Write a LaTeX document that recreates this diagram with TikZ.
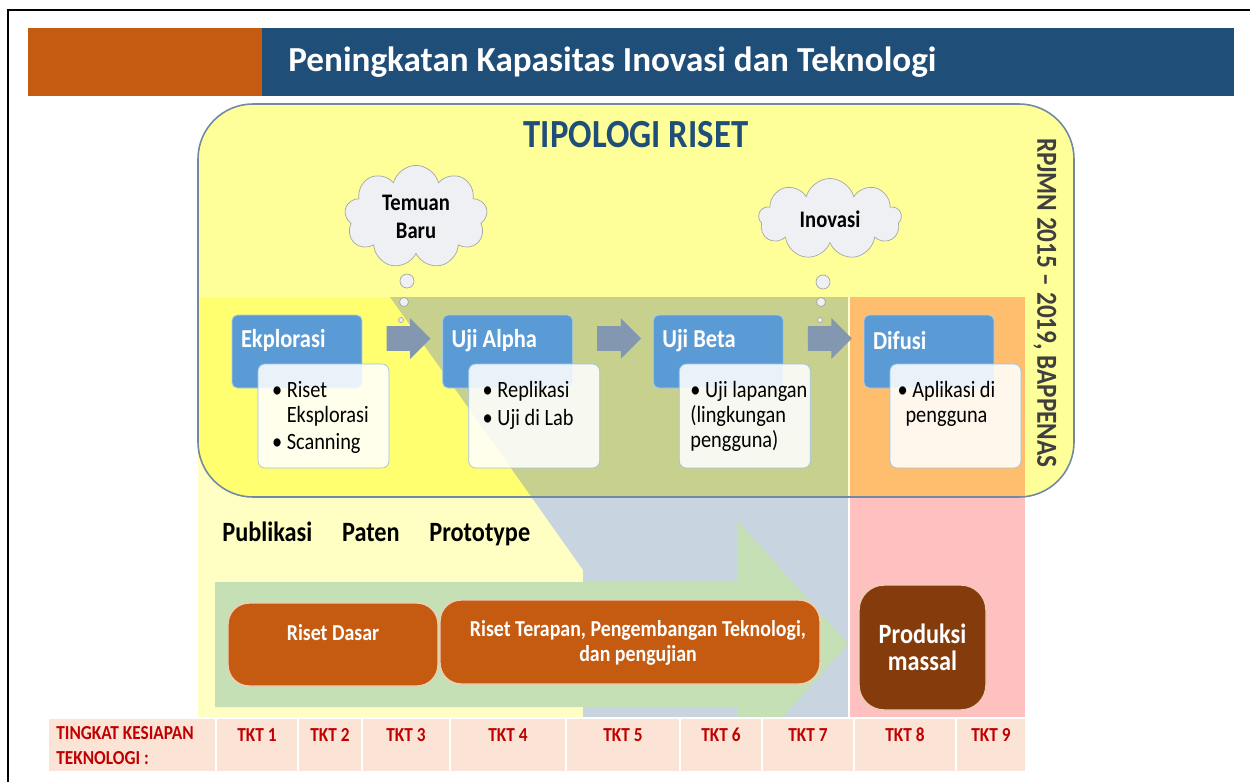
\documentclass[tikz,border=0pt]{standalone}
\usepackage{fontspec}
\setmainfont{Carlito}[FakeStretch=0.87]
\newfontfamily\headfont{Carlito}
\usetikzlibrary{positioning,calc,shapes.symbols,shapes.arrows}

\definecolor{headorange}{HTML}{C55A11}
\definecolor{headblue}{HTML}{1F4E79}
\definecolor{boxyellow}{HTML}{FFFF99}
\definecolor{brightyellow}{HTML}{FFFF70}
\definecolor{paleyellow}{HTML}{FFFFC3}
\definecolor{olive}{HTML}{C8D08E}
\definecolor{bluegrey}{HTML}{C8D4E0}
\definecolor{pinkband}{HTML}{FFC0C0}
\definecolor{orangeband}{HTML}{FFBE6E}
\definecolor{flowgreen}{HTML}{C5E0B4}
\definecolor{stageblue}{HTML}{5B9BD5}
\definecolor{detailline}{HTML}{9DC3E6}
\definecolor{arrowgrey}{HTML}{8497B0}
\definecolor{cloudfill}{HTML}{EFF0F3}
\definecolor{cloudline}{HTML}{A6A6A6}
\definecolor{burnt}{HTML}{C55A11}
\definecolor{brown}{HTML}{843C0C}
\definecolor{peach}{HTML}{FBE4D6}
\definecolor{tktred}{HTML}{C00000}
\definecolor{boxline}{HTML}{7288A3}
\definecolor{sidegrey}{HTML}{3F3F3F}

\newcommand{\bul}{\textbullet\hspace{0.2em}}
\newcommand{\bulgap}{\hphantom{\textbullet\hspace{0.2em}}}

\begin{document}
\begin{tikzpicture}[x=0.02cm, y=-0.02cm,
    stage/.style={rectangle, rounded corners=3pt, fill=stageblue, draw=stageblue!50!white,
      minimum width=2.6cm, minimum height=1.46cm, inner sep=0pt},
    stage title/.style={anchor=west, inner sep=0pt, text=white, font=\bfseries\fontsize{14.7}{17}\selectfont},
    detail/.style={rectangle, rounded corners=4pt, fill=white, fill opacity=0.87, draw=detailline,
      minimum width=2.62cm, minimum height=2.08cm, inner sep=0pt, anchor=north west},
    detail text/.style={inner sep=0pt, font=\fontsize{13.3}{14.3}\selectfont},
    step arrow/.style={single arrow, fill=arrowgrey, inner sep=0pt, minimum height=0.88cm,
      single arrow head extend=0.16cm, text height=0.24cm, text depth=0.24cm},
    thought/.style={cloud, cloud puffs=9, cloud ignores aspect, draw=cloudline, fill=cloudfill,
      minimum width=2.86cm, minimum height=1.62cm, align=center, font=\bfseries\fontsize{13.5}{16}\selectfont},
    bubble/.style={circle, draw=cloudline, fill=cloudfill, inner sep=0pt},
    output/.style={inner sep=0pt, font=\bfseries\fontsize{15.9}{19}\selectfont},
    research/.style={rectangle, rounded corners=0.42cm, fill=burnt, draw=white!70!burnt, line width=0.8pt},
    research text/.style={inner sep=0pt, text=white, align=center, font=\bfseries\fontsize{13}{14.3}\selectfont},
    tkt/.style={inner sep=0pt, text=tktred, font=\bfseries\fontsize{11.3}{14.2}\selectfont}
  ]
  \useasboundingbox (0,0) rectangle (1250,782);

  % frame and header bar
  \draw[line width=1.2pt] (8,782) -- (8,10) -- (1250,10);
  \fill[headorange] (28,28) rectangle (262,96);
  \fill[headblue] (262,28) rectangle (1234,96);
  \node[anchor=west, inner sep=0pt, text=white, font=\headfont\bfseries\fontsize{20}{24}\selectfont]
    (judul) at (288,62) {Peningkatan Kapasitas Inovasi dan Teknologi};

  % readiness bands behind everything
  \fill[paleyellow] (198,297) -- (390,297) -- (583,570) -- (583,718) -- (198,718) -- cycle;
  \fill[bluegrey] (390,297) -- (848,297) -- (848,718) -- (583,718) -- (583,570) -- cycle;
  \fill[pinkband] (850,297) rectangle (1025,718);

  % big green flow arrow
  \begin{scope}
    \clip (0,0) rectangle (1250,718);
    \fill[flowgreen] (215,582) -- (737,582) -- (737,520) -- (848,644) -- (737,768)
      -- (737,707) -- (215,707) -- cycle;
  \end{scope}
  \draw[white, line width=1.2pt] (849,297) -- (849,718);

  % tipologi box, bands show through
  \fill[boxyellow, rounded corners=1.1cm] (198,104) rectangle (1074,497);
  \begin{scope}
    \clip[rounded corners=1.1cm] (198,104) rectangle (1074,497);
    \fill[brightyellow] (198,297) -- (390,297) -- (583,570) -- (198,570) -- cycle;
    \fill[olive] (390,297) -- (848,297) -- (848,570) -- (583,570) -- cycle;
    \fill[orangeband] (850,297) rectangle (1025,570);
    \draw[white!60!boxyellow, line width=1.2pt] (849,297) -- (849,570);
  \end{scope}
  \draw[boxline, line width=0.9pt, rounded corners=1.1cm] (198,104) rectangle (1074,497);

  \node[inner sep=0pt, text=headblue, font=\bfseries\fontsize{22.7}{27}\selectfont]
    (tipologi) at (636,135) {TIPOLOGI RISET};
  \node[rotate=-90, inner sep=0pt, text=sidegrey, font=\bfseries\fontsize{16.5}{19}\selectfont]
    (rpjmn) at (1045,303) {RPJMN 2015 – 2019, BAPPENAS};

  % thought clouds
  \node[thought] (temuan) at (416,217) {Temuan\\Baru};
  \node[bubble, minimum size=0.28cm] (tb1) at (407,281) {};
  \node[bubble, minimum size=0.18cm] (tb2) at (404,302) {};
  \node[bubble, minimum size=0.1cm] (tb3) at (401,320) {};
  \node[thought] (inovasi) at (830,219) {Inovasi};
  \node[bubble, minimum size=0.28cm] (ib1) at (823,282) {};
  \node[bubble, minimum size=0.18cm] (ib2) at (821,302) {};
  \node[bubble, minimum size=0.1cm] (ib3) at (820,320) {};

  % stages
  \node[stage] (eks) at (297,351.5) {};
  \node[stage, right=1.6cm of eks] (alpha) {};
  \node[stage, right=1.6cm of alpha] (beta) {};
  \node[stage, right=1.6cm of beta] (difusi) {};

  \node[stage title] (eks-t) at ($(eks.north west)+(9,26)$) {Ekplorasi};
  \node[stage title] (alpha-t) at ($(alpha.north west)+(9,26)$) {Uji Alpha};
  \node[stage title] (beta-t) at ($(beta.north west)+(9,26)$) {Uji Beta};
  \node[stage title] (difusi-t) at ($(difusi.north west)+(9,26)$) {Difusi};

  \node[detail] (eks-d) at ($(eks.north west)+(26,49)$) {};
  \node[detail] (alpha-d) at ($(alpha.north west)+(26,49)$) {};
  \node[detail] (beta-d) at ($(beta.north west)+(26,49)$) {};
  \node[detail] (difusi-d) at ($(difusi.north west)+(26,49)$) {};

  \node[detail text, anchor=north west, align=left] (eks-x) at ($(eks-d.north west)+(14,17)$)
    {\bul Riset\\\bulgap Eksplorasi\\[1.5pt]\bul Scanning};
  \node[detail text, anchor=north west, align=left] (alpha-x) at ($(alpha-d.north west)+(14,17)$)
    {\bul Replikasi\\[1.5pt]\bul Uji di Lab};
  \node[detail text, anchor=north west, align=left] (beta-x) at ($(beta-d.north west)+(11,17)$)
    {\bul Uji lapangan\\(lingkungan\\pengguna)};
  \node[detail text, anchor=north, align=center] (difusi-x) at ($(difusi-d.north)+(-9,17)$)
    {\bul Aplikasi di\\pengguna};

  \node[step arrow] (a1) at ($(eks.east)!0.5!(alpha.west)+(0,-13)$) {};
  \node[step arrow] (a2) at ($(alpha.east)!0.5!(beta.west)+(0,-13)$) {};
  \node[step arrow] (a3) at ($(beta.east)!0.5!(difusi.west)+(0,-13)$) {};

  % outputs
  \node[output, anchor=base west] (publikasi) at (222,541) {Publikasi};
  \node[output, base right=0.58cm of publikasi] (paten) {Paten};
  \node[output, base right=0.58cm of paten] (prototype) {Prototype};

  % research blocks
  \node[research, minimum width=4.2cm, minimum height=1.66cm] (dasar) at (333,644.5) {};
  \node[research text] (dasar-x) at ($(dasar)+(0,-12)$) {Riset Dasar};
  \node[research, minimum width=7.6cm, minimum height=1.68cm] (terapan) at (630,642) {};
  \node[research text] (terapan-x) at (638,643) {Riset Terapan, Pengembangan Teknologi,\\dan pengujian};
  \node[research, fill=brown, rounded corners=0.5cm, minimum width=2.54cm, minimum height=2.5cm,
    text=white, align=center, font=\bfseries\fontsize{15.9}{15.5}\selectfont]
    (produksi) at (922.5,647.5) {Produksi\\massal};

  % readiness level table
  \path[fill=peach, draw=white, line width=1pt] (48,718) rectangle (216,772);
  \node[tkt, anchor=north west, align=left] (tkt0) at (56,726) {TINGKAT KESIAPAN\\TEKNOLOGI :};
  \foreach \xa/\xb/\n in {216/298/1,298/362/2,362/450/3,450/566/4,566/680/5,680/762/6,762/854/7,854/956/8,956/1026/9}{
    \path[fill=peach, draw=white, line width=1pt] (\xa,718) rectangle (\xb,772);
    \node[tkt] (tkt\n) at ({(\xa+\xb)/2},735) {TKT \n};
  }
\end{tikzpicture}
\end{document}
